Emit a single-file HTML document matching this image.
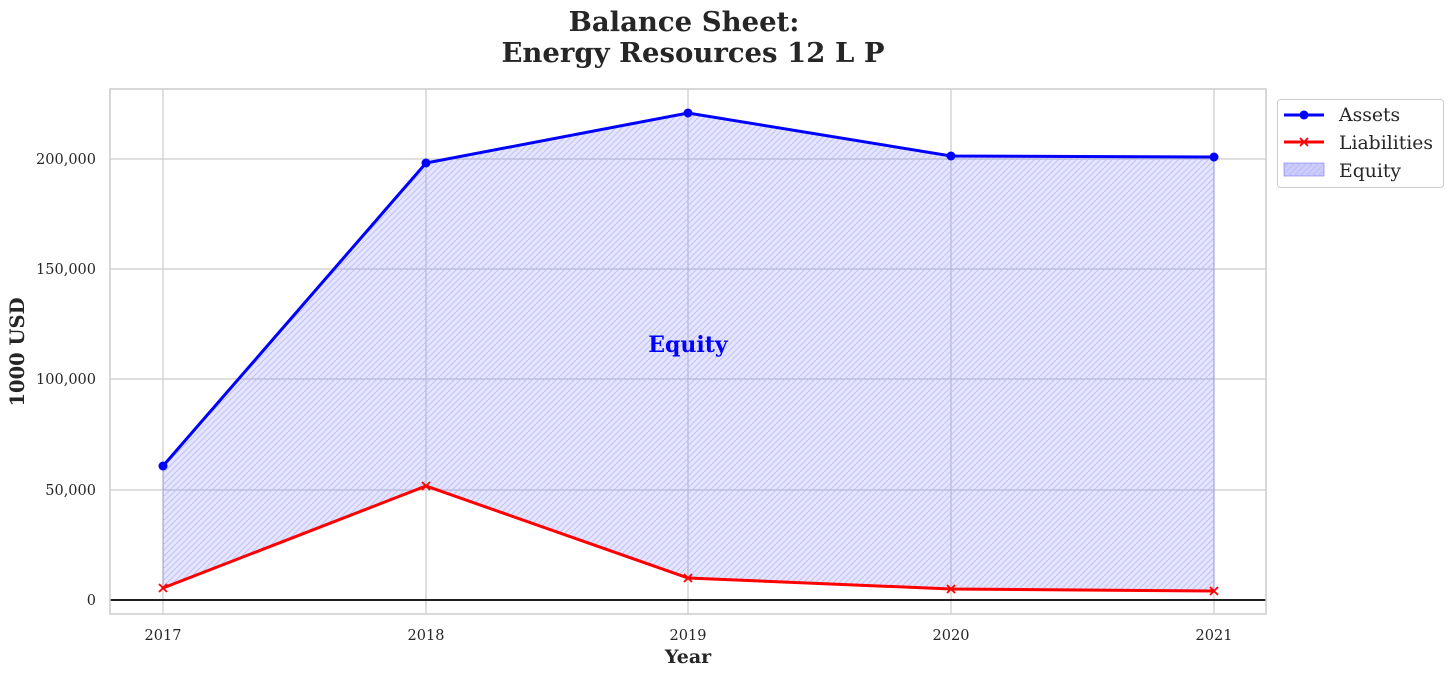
<!DOCTYPE html>
<html><head><meta charset="utf-8"><style>
body{margin:0;background:#fff;}
svg{display:block;font-family:"DejaVu Serif","Liberation Serif",serif;}
</style></head><body>
<svg width="1454" height="676" viewBox="0 0 1454 676" xmlns="http://www.w3.org/2000/svg">
<defs>
<pattern id="h" patternUnits="userSpaceOnUse" width="6" height="6">
<path d="M-1,1 l2,-2 M0,6 l6,-6 M5,7 l2,-2" stroke="#b8b8f0" stroke-width="1" opacity="0.8"/>
</pattern>
</defs>
<rect width="1454" height="676" fill="#fff"/>
<g stroke="#cccccc" stroke-width="1.2">
<line x1="163" y1="89" x2="163" y2="614"/>
<line x1="426" y1="89" x2="426" y2="614"/>
<line x1="688" y1="89" x2="688" y2="614"/>
<line x1="951" y1="89" x2="951" y2="614"/>
<line x1="1214" y1="89" x2="1214" y2="614"/>
<line x1="110" y1="159" x2="1266" y2="159"/>
<line x1="110" y1="269" x2="1266" y2="269"/>
<line x1="110" y1="379" x2="1266" y2="379"/>
<line x1="110" y1="490" x2="1266" y2="490"/>
</g>
<polygon points="163,466 426,163 688,113 951,156 1214,157 1214,591 951,589 688,578 426,486 163,588" fill="#0000ff" fill-opacity="0.1" stroke="#0000ff" stroke-opacity="0.2"/>
<polygon points="163,466 426,163 688,113 951,156 1214,157 1214,591 951,589 688,578 426,486 163,588" fill="url(#h)"/>
<line x1="110" y1="600" x2="1266" y2="600" stroke="#000" stroke-width="1.8"/>
<rect x="110" y="89" width="1156" height="525" fill="none" stroke="#cccccc" stroke-width="1.5"/>
<polyline points="163,466 426,163 688,113 951,156 1214,157" fill="none" stroke="#0000ff" stroke-width="3"/>
<g fill="#0000ff"><circle cx="163" cy="466" r="4.5"/><circle cx="426" cy="163" r="4.5"/><circle cx="688" cy="113" r="4.5"/><circle cx="951" cy="156" r="4.5"/><circle cx="1214" cy="157" r="4.5"/></g>
<polyline points="163,588 426,486 688,578 951,589 1214,591" fill="none" stroke="#ff0000" stroke-width="3"/>
<g stroke="#ff0000" stroke-width="1.8">
<path d="M159,584l8,8M167,584l-8,8"/><path d="M422,482l8,8M430,482l-8,8"/><path d="M684,574l8,8M692,574l-8,8"/><path d="M947,585l8,8M955,585l-8,8"/><path d="M1210,587l8,8M1218,587l-8,8"/>
</g>
<text x="688" y="352" text-anchor="middle" font-size="22" font-weight="bold" fill="#0000ff">Equity</text>
<g font-size="14.5" fill="#262626" text-anchor="end">
<text x="96" y="164">200,000</text>
<text x="96" y="274">150,000</text>
<text x="96" y="384">100,000</text>
<text x="96" y="495">50,000</text>
<text x="96" y="605">0</text>
</g>
<g font-size="14.5" fill="#262626" text-anchor="middle">
<text x="163" y="640">2017</text><text x="426" y="640">2018</text><text x="688" y="640">2019</text><text x="951" y="640">2020</text><text x="1214" y="640">2021</text>
</g>
<text x="688" y="663" text-anchor="middle" font-size="19" font-weight="bold" fill="#262626">Year</text>
<text transform="translate(24,352) rotate(-90)" text-anchor="middle" font-size="19.5" font-weight="bold" fill="#262626">1000 USD</text>
<text x="684" y="31" text-anchor="middle" font-size="27.5" font-weight="bold" fill="#262626">Balance Sheet:</text>
<text x="693" y="62" text-anchor="middle" font-size="27.5" font-weight="bold" fill="#262626">Energy Resources 12 L P</text>
<rect x="1277.5" y="99.5" width="166" height="88" rx="3" fill="#fff" stroke="#cccccc"/>
<line x1="1284" y1="115" x2="1324" y2="115" stroke="#0000ff" stroke-width="3"/><circle cx="1304" cy="115" r="4.5" fill="#0000ff"/>
<line x1="1284" y1="142" x2="1324" y2="142" stroke="#ff0000" stroke-width="3"/>
<path d="M1300,138l8,8M1308,138l-8,8" stroke="#ff0000" stroke-width="1.8"/>
<rect x="1284" y="163" width="40" height="13" fill="#0000ff" fill-opacity="0.2" stroke="#0000ff" stroke-opacity="0.3"/>
<rect x="1284" y="163" width="40" height="13" fill="url(#h)"/>
<g font-size="18.8" fill="#262626">
<text x="1339" y="121">Assets</text>
<text x="1339" y="149">Liabilities</text>
<text x="1339" y="177">Equity</text>
</g>
</svg>
</body></html>
